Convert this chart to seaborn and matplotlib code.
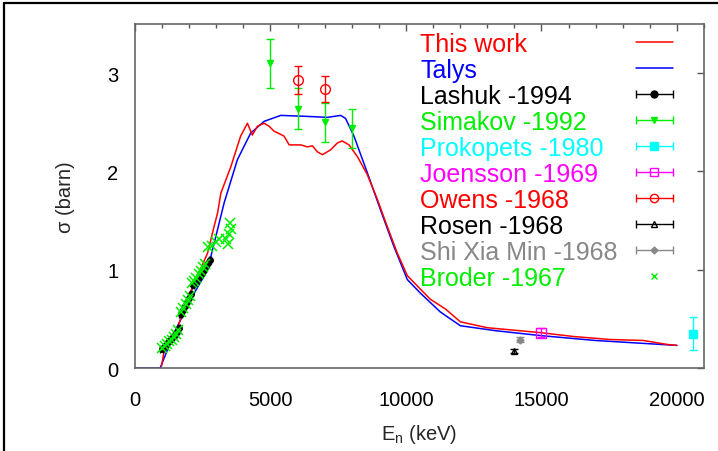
import numpy as np
import pandas as pd
import matplotlib
matplotlib.use("Agg")
import matplotlib.pyplot as plt
import seaborn as sns
from matplotlib.container import ErrorbarContainer
from matplotlib.legend_handler import HandlerErrorbar
from matplotlib.lines import Line2D

# ---------------- data ----------------
this_work_E = [980, 1080, 1570, 1820, 2250, 2680, 2740, 2920, 3050, 3170, 3540, 3900,
               4150, 4330, 4520, 4770, 4950, 5130, 5500, 5690, 6120, 6360, 6550,
               6730, 6920, 7220, 7470, 7650, 7900, 8210, 8570, 8940, 9310, 9680,
               10050, 10540, 10900, 11460, 12010, 13000, 14960, 16200, 17540,
               18770, 19630, 20000]
this_work_sigma = [0.02, 0.18, 0.40, 0.63, 0.90, 1.17, 1.24, 1.44, 1.58, 1.78, 2.05, 2.36,
                   2.49, 2.37, 2.46, 2.49, 2.46, 2.41, 2.36, 2.27, 2.27, 2.25, 2.26,
                   2.20, 2.17, 2.22, 2.29, 2.31, 2.27, 2.15, 1.97, 1.72, 1.44, 1.17,
                   0.94, 0.80, 0.70, 0.60, 0.47, 0.41, 0.36, 0.32, 0.29,
                   0.28, 0.24, 0.23]

talys_E = [0, 930, 1450, 2060, 2680, 3290, 3780, 4270, 4770, 5380, 6360, 7100,
           7590, 7770, 8080, 8570, 9060, 9550, 10050, 10540, 11270, 12010,
           13300, 14960, 17000, 20000]
talys_sigma = [0.0, 0.0, 0.36, 0.70, 1.00, 1.68, 2.12, 2.39, 2.51, 2.57, 2.56, 2.55,
               2.57, 2.54, 2.36, 1.99, 1.61, 1.24, 0.90, 0.76, 0.57, 0.43,
               0.38, 0.33, 0.28, 0.23]

lashuk_E = [980, 1060, 1140, 1220, 1300, 1380, 1460, 1540, 1620,
            1680, 1760, 1840, 1920, 2000, 2080,
            2140, 2220, 2300, 2380, 2460, 2540, 2620, 2700, 2780]
lashuk_sigma = [0.19, 0.21, 0.23, 0.26, 0.28, 0.31, 0.34, 0.37, 0.41,
                0.55, 0.59, 0.63, 0.67, 0.71, 0.75,
                0.84, 0.87, 0.90, 0.94, 0.97, 1.00, 1.04, 1.07, 1.10]

simakov_E = [5000, 6000, 7000, 8000]
simakov_sigma = [3.10, 2.64, 2.50, 2.44]
simakov_err = [0.25, 0.21, 0.20, 0.20]

prokopets_E = [20600]
prokopets_sigma = [0.35]
prokopets_err = [0.17]

joensson_E = [15000]
joensson_sigma = [0.36]
joensson_err = [0.045]

owens_E = [6000, 7000]
owens_sigma = [2.93, 2.84]
owens_err = [0.14, 0.135]

rosen_E = [14000]
rosen_sigma = [0.17]
rosen_err = [0.02]

shi_E = [14200]
shi_sigma = [0.29]
shi_err = [0.03]

broder_E = [1000, 1090, 1180, 1260, 1350, 1430, 1520, 1600,
            1700, 1790, 1870, 1960, 2040,
            2100, 2190, 2270, 2350, 2430, 2510, 2590,
            2680, 2860, 2985, 3110, 3350, 3415, 3475, 3510, 3540]
broder_sigma = [0.20, 0.22, 0.24, 0.27, 0.29, 0.32, 0.35, 0.39,
                0.57, 0.61, 0.65, 0.69, 0.73,
                0.86, 0.89, 0.92, 0.96, 0.99, 1.03, 1.06,
                1.23, 1.24, 1.28, 1.31, 1.31, 1.26, 1.36, 1.48, 1.41]

series_labels = ["This work", "Talys", "Lashuk -1994", "Simakov -1992",
                 "Prokopets -1980", "Joensson -1969", "Owens -1968",
                 "Rosen -1968", "Shi Xia Min -1968", "Broder -1967"]

x_ticks = [0, 5000, 10000, 15000, 20000]
y_ticks = [0, 1, 2, 3]

# ---------------- style ----------------
sns.set_style("white")
plt.rcParams["font.family"] = ["Liberation Sans", "DejaVu Sans"]
plt.rcParams["mathtext.fontset"] = "custom"
plt.rcParams["mathtext.rm"] = "Liberation Sans"
plt.rcParams["mathtext.it"] = "Liberation Sans"

RED, BLUE, BLACK, GREEN = "#ff0000", "#0000ff", "#000000", "#00ee00"
CYAN, MAGENTA, GRAY = "#00ffff", "#ff00ff", "#888888"

fig = plt.figure(figsize=(7.18, 4.52), dpi=100)
ax = fig.add_axes([0.188, 0.1836, 0.7925, 0.7611])

df_tw = pd.DataFrame({"E": this_work_E, "sigma": this_work_sigma})
df_ta = pd.DataFrame({"E": talys_E, "sigma": talys_sigma})
sns.lineplot(data=df_tw, x="E", y="sigma", color=RED, lw=1.1, ax=ax,
             estimator=None, zorder=3)
sns.lineplot(data=df_ta, x="E", y="sigma", color=BLUE, lw=1.1, ax=ax,
             estimator=None, zorder=2)

ekw = dict(elinewidth=1.0, capsize=3, capthick=1.0, linestyle="none")
ax.errorbar(lashuk_E, lashuk_sigma, xerr=40, fmt="o", color=BLACK, ms=4, zorder=4, **ekw)
ax.plot(broder_E, broder_sigma, "x", color=GREEN, ms=7, mew=1.1, zorder=5)
ax.errorbar(simakov_E, simakov_sigma, yerr=simakov_err, fmt="v", color=GREEN, ms=5, zorder=4, **ekw)
ax.errorbar(prokopets_E, prokopets_sigma, yerr=prokopets_err, fmt="s", color=CYAN, ms=6, zorder=4, **ekw)
ax.errorbar(joensson_E, joensson_sigma, yerr=joensson_err, fmt="s", color=MAGENTA, ms=7,
            mfc="none", zorder=4, **ekw)
ax.errorbar(owens_E, owens_sigma, yerr=owens_err, fmt="o", color=RED, ms=7, mfc="none",
            zorder=4, **ekw)
ax.errorbar(rosen_E, rosen_sigma, yerr=rosen_err, fmt="^", color=BLACK, ms=5, mfc="none",
            zorder=4, **ekw)
ax.errorbar(shi_E, shi_sigma, yerr=shi_err, fmt="D", color=GRAY, ms=3.5, zorder=4, **ekw)

ax.set_xlim(0, 21000)
ax.set_ylim(0, 3.5)
ax.set_xticks(x_ticks)
ax.set_xticks(np.arange(0, 21001, 1000), minor=True)
ax.set_yticks(y_ticks)
ax.set_xticklabels([str(v) for v in x_ticks])
ax.set_yticklabels([str(v) for v in y_ticks])
ax.tick_params(which="both", direction="in", top=True, right=True, colors="#555555",
               labelcolor="black", labelsize=14.5)
ax.tick_params(which="major", length=5, width=1)
ax.tick_params(which="minor", length=3, width=1)
ax.tick_params(axis="x", pad=16)
ax.tick_params(axis="y", pad=12)
for s in ax.spines.values():
    s.set_color("#666666")
    s.set_linewidth(1.2)

ax.set_xlabel("E$_{\\mathrm{n}}$ (keV)", fontsize=14.5, labelpad=9)
ax.set_ylabel("σ (barn)", fontsize=14.5, labelpad=23)

# legend with proxies (gnuplot style: text first, sample after)
proxies = [
    Line2D([], [], color=RED, lw=1.1),
    Line2D([], [], color=BLUE, lw=1.1),
]
def eb_proxy(color, marker, ms, mfc=None):
    kw = dict(fmt=marker, color=color, ms=ms, elinewidth=1.0, capsize=3, capthick=1.0)
    if mfc is not None:
        kw["mfc"] = mfc
    return ax.errorbar([np.nan], [np.nan], xerr=[1.0], **kw)
proxies += [
    eb_proxy(BLACK, "o", 5),
    eb_proxy(GREEN, "v", 5),
    eb_proxy(CYAN, "s", 6),
    eb_proxy(MAGENTA, "s", 6, "none"),
    eb_proxy(RED, "o", 6, "none"),
    eb_proxy(BLACK, "^", 5, "none"),
    eb_proxy(GRAY, "D", 3.5),
    Line2D([], [], color=GREEN, marker="x", ls="none", ms=5, mew=1.0),
]
label_colors = [RED, BLUE, BLACK, GREEN, CYAN, MAGENTA, RED, BLACK, GRAY, GREEN]
leg = ax.legend(proxies, series_labels, loc="upper right", bbox_to_anchor=(0.950, 0.985),
                frameon=False, markerfirst=False, fontsize=18, handlelength=1.5,
                handletextpad=0.6, labelspacing=0.08, borderaxespad=0.0, borderpad=0.1,
                handler_map={ErrorbarContainer: HandlerErrorbar(xerr_size=0.75)})
for t, c in zip(leg.get_texts(), label_colors):
    t.set_color(c)
# left-align texts, right-align samples (gnuplot key look)
for col in leg._legend_handle_box.get_children():
    for item in col.get_children():
        item.mode = "expand"
        item.width = 253

# outer frame lines (top and left)
fig.add_artist(Line2D([0.006, 1.0], [0.991, 0.991], transform=fig.transFigure,
                      color="black", lw=1.6))
fig.add_artist(Line2D([0.006, 0.006], [0.0, 0.991], transform=fig.transFigure,
                      color="black", lw=1.6))

fig.savefig("out.png", dpi=100)
